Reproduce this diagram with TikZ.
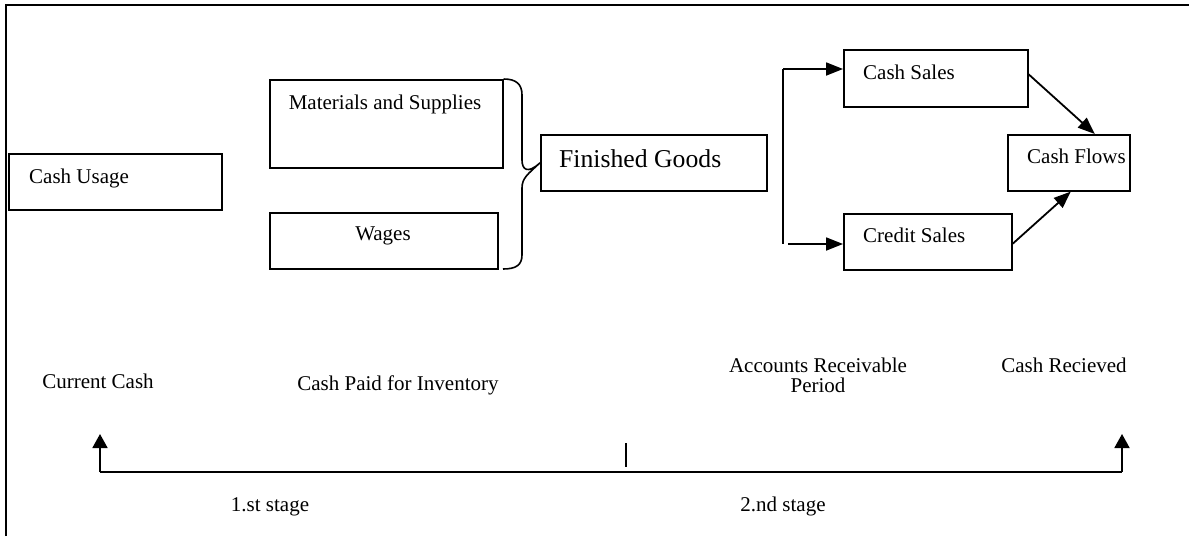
\documentclass[tikz,border=0pt]{standalone}
\usepackage{fontspec}
\setmainfont{Liberation Serif}
\usetikzlibrary{arrows.meta}
\begin{document}
\begin{tikzpicture}[x=1pt,y=-1pt,
  box/.style={draw, line width=1.6pt, rectangle, inner sep=0pt, anchor=north west},
  txt/.style={font=\fontsize{21}{25}\selectfont, inner sep=0pt},
  bigtxt/.style={font=\fontsize{25.7}{30}\selectfont, inner sep=0pt},
  ln/.style={line width=1.8pt},
  arr/.style={line width=1.8pt, -{Triangle[length=17pt,width=13pt]}},
  tarr/.style={line width=1.8pt, -{Triangle[length=14pt,width=15pt]}}]
\useasboundingbox (0,0) rectangle (1189,536);
% frame
\draw[ln] (6,536) -- (6,5) -- (1189,5);
% boxes
\node[box, minimum width=213pt, minimum height=56pt] (cu) at (8,153) {};
\node[box, minimum width=233pt, minimum height=88pt] (ms) at (269,79) {};
\node[box, minimum width=228pt, minimum height=56pt] (wg) at (269,212) {};
\node[box, minimum width=226pt, minimum height=56pt] (fg) at (540,134) {};
\node[box, minimum width=184pt, minimum height=57pt] (cs) at (843,49) {};
\node[box, minimum width=168pt, minimum height=56pt] (cr) at (843,213) {};
\node[box, minimum width=122pt, minimum height=56pt] (cf) at (1007,134) {};
% box texts
\node[txt, anchor=base west] (cut) at (29,183) {Cash Usage};
\node[txt, anchor=base] (mst) at (385,109) {Materials and Supplies};
\node[txt, anchor=base] (wgt) at (383,240) {Wages};
\node[bigtxt, anchor=base west] (fgt) at (559,167) {Finished Goods};
\node[txt, anchor=base west] (cst) at (863,79) {Cash Sales};
\node[txt, anchor=base west] (crt) at (863,242) {Credit Sales};
\node[txt, anchor=base west] (cft) at (1027,163) {Cash Flows};
% brace
\draw[line width=1.6pt] (ms.north east) .. controls (516,79) and (522,84) .. (522,95)
  -- (522,160) .. controls (522,170) and (528,174) .. (fg.west)
  .. controls (528,174) and (522,178) .. (522,188)
  -- (522,255) .. controls (522,265) and (516,269) .. (503,269);
% branch
\coordinate (b1) at (783,69);
\coordinate (b2) at (783,244);
\coordinate (b3) at (788,244);
\draw[ln] (b1) -- (b2);
\draw[arr] (b1) -- (cs.west |- b1);
\draw[arr] (b3) -- (cr.west |- b3);
% to cash flows
\draw[arr] ([yshift=4pt]cs.east) -- ([xshift=26pt]cf.north);
\draw[arr] ([yshift=-2pt]cr.east) -- ([xshift=2pt]cf.south);
% timeline
\coordinate (tl) at (100,472);
\coordinate (tr) at (1122,472);
\coordinate (tla) at (100,434);
\coordinate (tra) at (1122,434);
\coordinate (tk1) at (626,443);
\coordinate (tk2) at (626,467);
\draw[ln] (tl) -- (tr);
\draw[tarr] (tl) -- (tla);
\draw[tarr] (tr) -- (tra);
\draw[line width=1.6pt] (tk1) -- (tk2);
% timeline labels
\node[txt, anchor=base] (l1) at (98,388) {Current Cash};
\node[txt, anchor=base] (l2) at (398,390) {Cash Paid for Inventory};
\node[txt, anchor=base] (l3) at (818,372) {Accounts Receivable};
\node[txt, anchor=base] (l4) at (818,392) {Period};
\node[txt, anchor=base] (l5) at (1064,372) {Cash Recieved};
\node[txt, anchor=base] (l6) at (270,511) {1.st stage};
\node[txt, anchor=base] (l7) at (783,511) {2.nd stage};
\end{tikzpicture}
\end{document}
